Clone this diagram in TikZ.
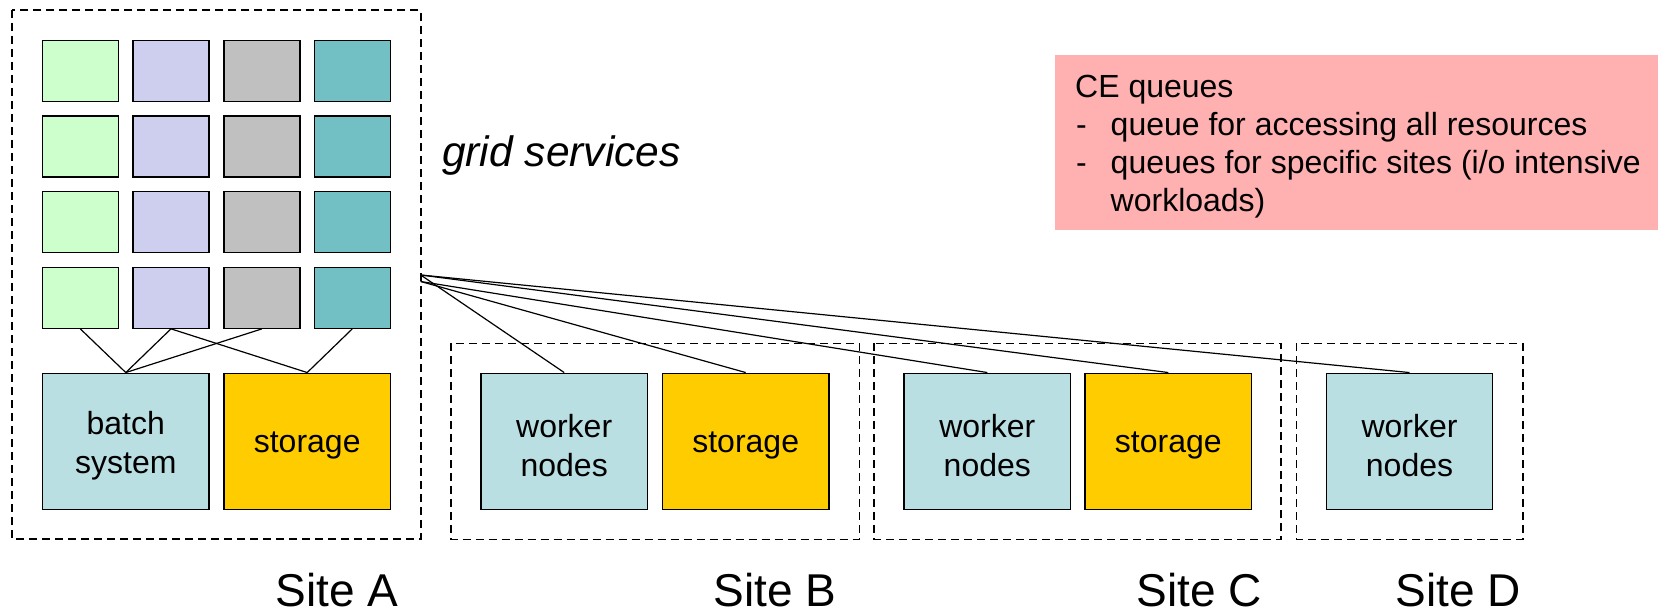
\documentclass[tikz,border=0pt]{standalone}
\usepackage{fontspec}
\setmainfont{Liberation Sans}
\definecolor{cgreen}{HTML}{CCFFCC}
\definecolor{clav}{HTML}{CECEEE}
\definecolor{cgray}{HTML}{C0C0C0}
\definecolor{cteal}{HTML}{72BFC4}
\definecolor{cwork}{HTML}{B9DFE3}
\definecolor{cstor}{HTML}{FFCC00}
\definecolor{cpink}{HTML}{FFB0B0}
\tikzset{
  small/.style={draw=black, line width=1.3pt, minimum width=76pt, minimum height=61pt, inner sep=0pt},
  bigbox/.style={draw=black, line width=1.3pt, minimum width=166.5pt, minimum height=136pt, inner sep=0pt},
  boxtext/.style={align=center, inner sep=0pt, yshift=-4.5pt, font=\fontsize{32}{38.7}\selectfont},
  sitebox/.style={draw=black, line width=1.6pt, dash pattern=on 8pt off 5pt},
  conn/.style={draw=black, line width=1.2pt},
  sitelabel/.style={anchor=base, inner sep=0pt, font=\fontsize{46}{55}\selectfont},
  cetext/.style={anchor=base west, inner sep=0pt, font=\fontsize{32}{38}\selectfont},
}
\begin{document}
\begin{tikzpicture}[x=1pt,y=-1pt]
\useasboundingbox (0,0) rectangle (1660,615);
% site boxes
\draw[sitebox] (12,10) rectangle (420.7,539);
\draw[sitebox] (450.7,343.3) rectangle (859.3,539.3);
\draw[sitebox] (874.2,343.3) rectangle (1281,539.3);
\draw[sitebox] (1296.4,343.3) rectangle (1522.7,539.3);
% grid service boxes
\foreach \r/\y in {1/71,2/146.5,3/222,4/297.7}{
  \node[small, fill=cgreen] (s\r1) at (80.3,\y) {};
  \node[small, fill=clav]   (s\r2) at (171,\y) {};
  \node[small, fill=cgray]  (s\r3) at (262,\y) {};
  \node[small, fill=cteal]  (s\r4) at (352.3,\y) {};
}
% big boxes
\node[bigbox, fill=cwork, label={[boxtext]center:batch\\system}] (batch) at (125.8,441.2) {};
\node[bigbox, fill=cstor, label={[boxtext]center:storage}] (stA) at (307.2,441.2) {};
\node[bigbox, fill=cwork, label={[boxtext]center:worker\\nodes}] (wB) at (564.2,441.2) {};
\node[bigbox, fill=cstor, label={[boxtext]center:storage}] (stB) at (745.7,441.2) {};
\node[bigbox, fill=cwork, label={[boxtext]center:worker\\nodes}] (wC) at (987.3,441.2) {};
\node[bigbox, fill=cstor, label={[boxtext]center:storage}] (stC) at (1168.3,441.2) {};
\node[bigbox, fill=cwork, label={[boxtext]center:worker\\nodes}] (wD) at (1409.5,441.2) {};
% connectors inside site A
\draw[conn] (s41.south) -- (batch.north);
\draw[conn] (s42.south) -- (batch.north);
\draw[conn] (s42.south) -- (stA.north);
\draw[conn] (s43.south) -- (batch.north);
\draw[conn] (s44.south) -- (stA.north);
% connectors to other sites
\coordinate (srcA) at (420.7,275);
\coordinate (srcB) at (420.7,281.5);
\draw[conn] (srcA) -- (wB.north);
\draw[conn] (srcB) -- (stB.north);
\draw[conn] (srcB) -- (wC.north);
\draw[conn] (srcA) -- (stC.north);
\draw[conn] (srcA) -- (wD.north);
% grid services label
\node[anchor=base west, inner sep=0pt, font=\fontsize{42.5}{50}\selectfont\itshape] (gs) at (442,166.5) {grid services};
% CE queues box
\node[fill=cpink, minimum width=603pt, minimum height=175pt, inner sep=0pt, anchor=north west] (ce) at (1055,55) {};
\node[cetext] (ce1) at (1075,97.3) {CE queues};
\node[cetext] (ce2) at (1076,135.5) {-};
\node[cetext] (ce2t) at (1110.5,135.5) {queue for accessing all resources};
\node[cetext] (ce3) at (1076,173.5) {-};
\node[cetext] (ce3t) at (1110.5,173.5) {queues for specific sites (i/o intensive};
\node[cetext] (ce4t) at (1110.5,211.5) {workloads)};
% site labels
\node[sitelabel] (la) at (337,606) {Site A};
\node[sitelabel] (lb) at (775,606) {Site B};
\node[sitelabel] (lc) at (1199,606) {Site C};
\node[sitelabel] (ld) at (1458,606) {Site D};
\end{tikzpicture}
\end{document}
